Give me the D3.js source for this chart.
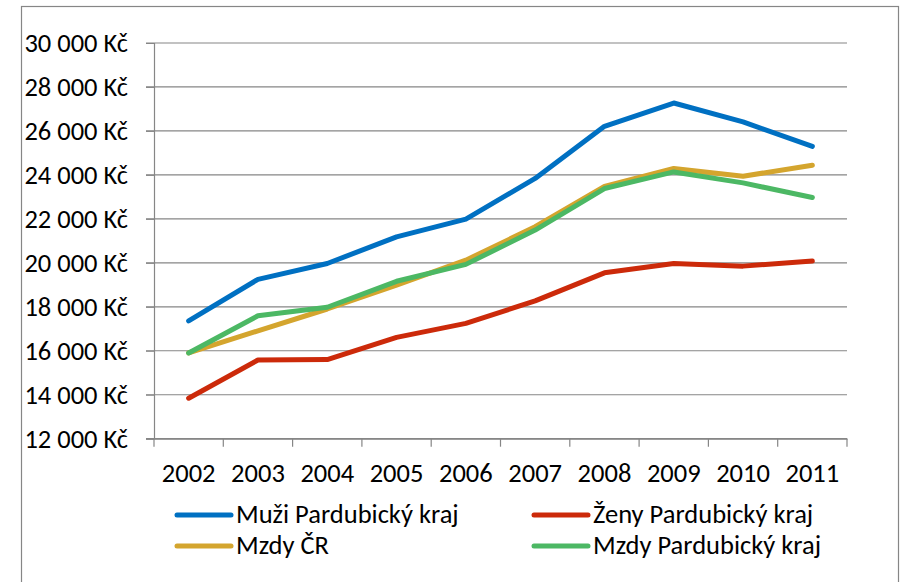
<!DOCTYPE html>
<html>
<head>
<meta charset="utf-8">
<script src="https://cdn.jsdelivr.net/npm/d3@7.9.0/dist/d3.min.js"></script>
<style>
  body { margin: 0; background: #fff; }
  svg text { font-family: Carlito, Calibri, "Open Sans", sans-serif; fill: #000; }
</style>
</head>
<body>
<svg id="chart" width="901" height="582"></svg>
<script>
const years = ['2002', '2003', '2004', '2005', '2006', '2007', '2008', '2009', '2010', '2011'];
const muzi = [17360, 19250, 19970, 21180, 21985, 23840, 26210, 27270, 26410, 25300];
const zeny = [13840, 15580, 15600, 16610, 17245, 18270, 19545, 19970, 19850, 20080];
const mzdyCR = [15900, 16910, 17900, 18990, 20120, 21640, 23480, 24290, 23940, 24440];
const mzdyPK = [15900, 17590, 17980, 19160, 19930, 21490, 23380, 24135, 23636, 22970];
const yTicks = [12000, 14000, 16000, 18000, 20000, 22000, 24000, 26000, 28000, 30000];

const series = [
  { name: 'Muži Pardubický kraj', values: muzi, color: '#0070c2' },
  { name: 'Ženy Pardubický kraj', values: zeny, color: '#cc2a0a' },
  { name: 'Mzdy ČR', values: mzdyCR, color: '#d4a52e' },
  { name: 'Mzdy Pardubický kraj', values: mzdyPK, color: '#4cb864' }
];

const svg = d3.select('#chart');
const grey = '#868686';
const fontSize = 26.5;

// outer frame
svg.append('rect')
  .attr('x', 21.5).attr('y', 6.5)
  .attr('width', 877).attr('height', 600)
  .attr('fill', 'none').attr('stroke', grey).attr('stroke-width', 1.2);

const plotLeft = 154, plotRight = 847, plotTop = 43, plotBottom = 438.7;

const x = d3.scaleBand().domain(years).range([plotLeft, plotRight]);
const y = d3.scaleLinear().domain([12000, 30000]).range([plotBottom, plotTop]);

const fmt = v => d3.format(',')(v).replace(/,/g, '\u00a0') + '\u00a0Kč';

// gridlines
svg.append('g')
  .selectAll('line')
  .data(yTicks)
  .join('line')
  .attr('x1', plotLeft - 8).attr('x2', plotRight)
  .attr('y1', d => y(d)).attr('y2', d => y(d))
  .attr('stroke', grey).attr('stroke-width', 1.2);

// y axis
const yAxis = svg.append('g')
  .attr('transform', `translate(${plotLeft},0)`)
  .call(d3.axisLeft(y).tickValues(yTicks).tickSize(8).tickPadding(18).tickFormat(fmt));
yAxis.select('.domain').attr('stroke', grey).attr('stroke-width', 1.2);
yAxis.selectAll('.tick line').attr('stroke', grey);
yAxis.selectAll('text')
  .attr('font-size', fontSize);
yAxis.attr('font-family', null);

// x axis
const xAxis = svg.append('g')
  .attr('transform', `translate(0,${plotBottom})`)
  .call(d3.axisBottom(x).tickSize(0).tickPadding(24));
xAxis.select('.domain').attr('stroke', grey).attr('stroke-width', 1.2);
xAxis.selectAll('text')
  .attr('font-size', fontSize);
xAxis.attr('font-family', null);

// category boundary ticks
const bounds = years.map(d => x(d)).concat([plotRight]);
svg.append('g')
  .selectAll('line')
  .data(bounds)
  .join('line')
  .attr('x1', d => d).attr('x2', d => d)
  .attr('y1', plotBottom).attr('y2', plotBottom + 8)
  .attr('stroke', grey).attr('stroke-width', 1.2);

// lines
const line = d3.line()
  .x((d, i) => x(years[i]) + x.bandwidth() / 2)
  .y(d => y(d));

svg.append('g')
  .selectAll('path')
  .data([series[2], series[3], series[1], series[0]])
  .join('path')
  .attr('d', d => line(d.values))
  .attr('fill', 'none')
  .attr('stroke', d => d.color)
  .attr('stroke-width', 5)
  .attr('stroke-linecap', 'round')
  .attr('stroke-linejoin', 'round');

// legend
const legendPos = [
  { lx: 177, ty: 523 },
  { lx: 534, ty: 523 },
  { lx: 177, ty: 554 },
  { lx: 534, ty: 554 }
];
const legend = svg.append('g')
  .selectAll('g')
  .data(series)
  .join('g')
  .attr('transform', (d, i) => `translate(${legendPos[i].lx},${legendPos[i].ty})`);
legend.append('line')
  .attr('x1', 0).attr('x2', 54)
  .attr('y1', -8).attr('y2', -8)
  .attr('stroke', d => d.color)
  .attr('stroke-width', 5)
  .attr('stroke-linecap', 'round');
legend.append('text')
  .attr('x', 59)
  .attr('font-size', fontSize)
  .text(d => d.name);
</script>
</body>
</html>
